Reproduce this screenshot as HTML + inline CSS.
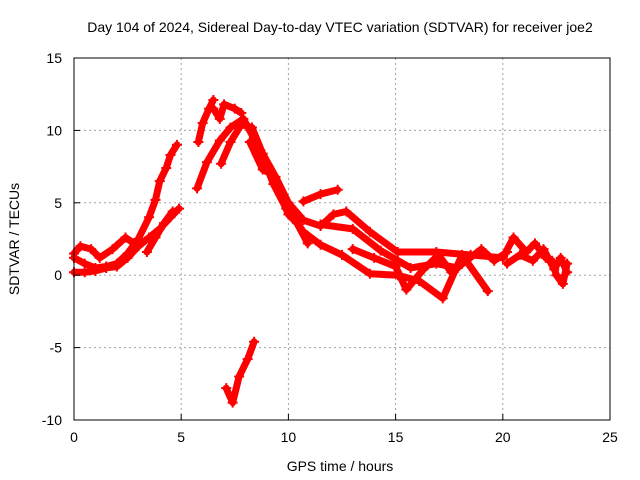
<!DOCTYPE html>
<html><head><meta charset="utf-8"><style>
body{margin:0;background:#fff;}
svg{display:block;font-family:"Liberation Sans",sans-serif;}
</style></head><body>
<svg id="chart" width="640" height="480">
<text x="340" y="32" font-size="14" text-anchor="middle">Day 104 of 2024, Sidereal Day-to-day VTEC variation (SDTVAR) for receiver joe2</text>
<text x="340" y="471" font-size="14" text-anchor="middle">GPS time / hours</text>
<text transform="translate(19,239) rotate(-90)" font-size="14" text-anchor="middle">SDTVAR / TECUs</text>
<g id="grid"></g><g id="marks"></g><g id="axes"></g>
</svg>
<script>
const xTicks=[0,5,10,15,20,25];
const yTicks=[-10,-5,0,5,10,15];
const trackA_x=[0,0.5,1,1.5,2,2.5,3,3.5,3.8,4,4.3,4.5,4.8];
const trackA_y=[1.2,0.8,0.5,0.6,0.8,1.5,2.5,4,5.2,6.5,7.4,8.3,9];
const trackB_x=[0,0.3,0.8,1.2,1.8,2.4,2.8];
const trackB_y=[1.5,2,1.8,1.2,1.8,2.6,2.2];
const trackC_x=[0,0.5,1,1.5,2,2.5,3,3.5,4,4.5,4.9];
const trackC_y=[0.2,0.2,0.3,0.5,0.6,1.2,2,2.6,3.2,4,4.6];
const trackD_x=[3.4,3.8,4.2,4.6];
const trackD_y=[1.6,2.6,3.6,4.4];
const trackE_x=[5.8,6,6.3,6.5];
const trackE_y=[9.2,10.5,11.5,12.1];
const trackF_x=[6.5,6.8,7,7.5,7.8];
const trackF_y=[11.5,10.8,11.8,11.5,11.2];
const trackG_x=[5.74,6.2,6.8,7.3,7.9,8.7,9.3,9.9,10.7,11.5,12.5,13.8,15.1,16.1,17.2,18.1,19.3];
const trackG_y=[6.0,7.8,9.3,10.2,10.8,8.6,6.3,4.6,3.0,2.1,1.4,0.1,0.0,-0.4,-1.6,1.4,-1.1];
const trackH_x=[6.86,7.3,7.8,8.3,8.8,9.4,10.0,10.7,11.5,12.1,12.7,13.8,15.1,16.9,18.5,20,20.5,21.1,21.5,22,22.3,22.5,22.8,23];
const trackH_y=[7.7,9.2,10.4,10.2,8.4,6.8,5.0,3.8,3.4,4.2,4.4,3.0,1.6,1.6,1.4,1.2,2.6,1.6,2.2,1.2,1.0,0.0,-0.6,0.8];
const trackI_x=[10.7,11.5,12.3];
const trackI_y=[5.1,5.6,5.9];
const trackJ_x=[11.5,13,14.3,15.7,16.9,17.9];
const trackJ_y=[3.5,3.2,1.7,0.5,0.8,0.5];
const trackK_x=[7.1,7.4,7.7,8.1,8.4];
const trackK_y=[-7.8,-8.8,-7.0,-5.8,-4.6];
const trackL_x=[8.2,8.8,9.2,9.6,10.0,10.4,10.9];
const trackL_y=[9.2,7.3,7.0,5.6,4.2,3.6,2.2];
const trackM_x=[13.0,14.0,15.0,15.5,16.3,17.0,17.6,18.3,19.0,19.6,20.2];
const trackM_y=[1.8,1.2,0.6,-1.0,0.4,1.4,0.2,1.0,1.8,1.0,1.6];
const trackN_x=[20.2,20.8,21.4,21.9,22.4,22.7,23.0];
const trackN_y=[0.8,1.4,1.0,1.8,0.4,1.2,0.2];
const L=74,R=610,T=58,B=420,xmin=0,xmax=25,ymin=-10,ymax=15;
const sx=v=>L+(v-xmin)/(xmax-xmin)*(R-L);
const sy=v=>B-(v-ymin)/(ymax-ymin)*(B-T);
const NS="http://www.w3.org/2000/svg";
function mk(tag,attrs,parent){const e=document.createElementNS(NS,tag);for(const k in attrs)e.setAttribute(k,attrs[k]);parent.appendChild(e);return e;}
const grid=document.getElementById('grid'),axes=document.getElementById('axes'),marks=document.getElementById('marks');
xTicks.forEach(t=>{
  if(t>xmin&&t<xmax){const g=mk('line',{x1:sx(t),x2:sx(t),y1:T,y2:B,stroke:'#a0a0a0','stroke-dasharray':'2,3'},grid);
  
  }
  const tk=mk('line',{x1:sx(t),x2:sx(t),y1:B,y2:B-6,stroke:'#000'},axes);
  
  
  const tx=mk('text',{x:sx(t),y:B+22,'font-size':14,'text-anchor':'middle'},axes);tx.textContent=t;
  
  
});
yTicks.forEach(t=>{
  if(t>ymin&&t<ymax){const g=mk('line',{x1:L,x2:R,y1:sy(t),y2:sy(t),stroke:'#a0a0a0','stroke-dasharray':'2,3'},grid);
  
  }
  const tk=mk('line',{x1:L,x2:L+6,y1:sy(t),y2:sy(t),stroke:'#000'},axes);
  
  
  const tx=mk('text',{x:L-12,y:sy(t)+5,'font-size':14,'text-anchor':'end'},axes);tx.textContent=t;
  
  
});
const fr=mk('rect',{x:L,y:T,width:R-L,height:B-T,fill:'none',stroke:'#000'},axes);


const tracks=[[trackA_x,trackA_y],[trackB_x,trackB_y],[trackC_x,trackC_y],[trackD_x,trackD_y],[trackE_x,trackE_y],[trackF_x,trackF_y],[trackG_x,trackG_y],[trackH_x,trackH_y],[trackI_x,trackI_y],[trackJ_x,trackJ_y],[trackK_x,trackK_y],[trackL_x,trackL_y],[trackM_x,trackM_y],[trackN_x,trackN_y]];
tracks.forEach(([xs,ys])=>{
  const pts=xs.map((x,i)=>sx(x)+','+sy(ys[i])).join(' ');
  const pl=mk('polyline',{points:pts,fill:'none',stroke:'#ff0000','stroke-width':7,'stroke-linejoin':'round','stroke-linecap':'round'},marks);
  
  
  xs.forEach((x,i)=>{
    const p=mk('path',{d:`M${sx(x)-5},${sy(ys[i])}h10M${sx(x)},${sy(ys[i])-5}v10`,stroke:'#ff0000','stroke-width':2},marks);
    
    
  });
});
</script>
</body></html>
